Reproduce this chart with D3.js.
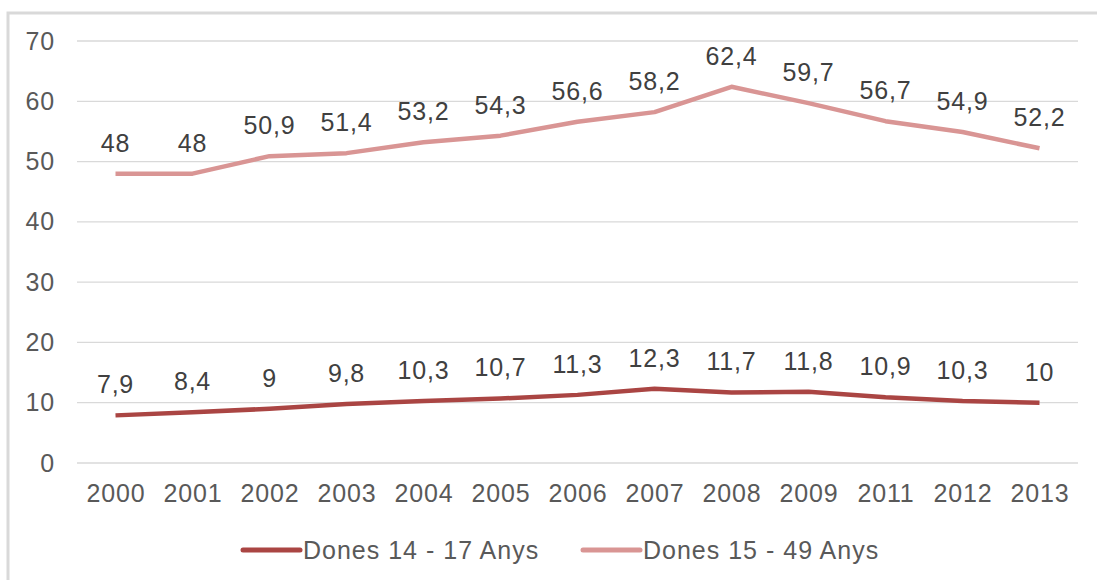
<!DOCTYPE html>
<html>
<head>
<meta charset="utf-8">
<script src="https://cdn.jsdelivr.net/npm/d3@7"></script>
<style>
  body { margin: 0; background: #fff; }
  svg { display: block; font-family: "Liberation Sans", Arial, sans-serif; }
</style>
</head>
<body>
<svg class="chart" width="1097" height="580"></svg>
<script>
var years = ["2000", "2001", "2002", "2003", "2004", "2005", "2006", "2007", "2008", "2009", "2011", "2012", "2013"];
var dones1417 = [7.9, 8.4, 9, 9.8, 10.3, 10.7, 11.3, 12.3, 11.7, 11.8, 10.9, 10.3, 10];
var dones1549 = [48, 48, 50.9, 51.4, 53.2, 54.3, 56.6, 58.2, 62.4, 59.7, 56.7, 54.9, 52.2];
var yTicks = [0, 10, 20, 30, 40, 50, 60, 70];

var series = [
  { name: "Dones 14 - 17 Anys", values: dones1417, color: "#aa4543" },
  { name: "Dones 15 - 49 Anys", values: dones1549, color: "#d99594" }
];

var svg = d3.select(".chart"),
    plotLeft = 77, plotRight = 1078, plotTop = 41, plotBottom = 463;

// frame
svg.append("path")
    .attr("d", "M8,580V13H1097")
    .attr("fill", "none")
    .attr("stroke", "#d9d9d9")
    .attr("stroke-width", 3);

var x = d3.scalePoint().domain(years).range([plotLeft, plotRight]).padding(0.5);
var y = d3.scaleLinear().domain([0, 70]).range([plotBottom, plotTop]);

// gridlines
svg.append("g")
  .selectAll("line")
  .data(yTicks)
  .join("line")
    .attr("x1", plotLeft).attr("x2", plotRight)
    .attr("y1", function(d) { return y(d); })
    .attr("y2", function(d) { return y(d); })
    .attr("stroke", "#d9d9d9")
    .attr("stroke-width", 1.3);

// y axis labels
var yAxis = svg.append("g")
    .attr("transform", "translate(" + plotLeft + ",0)")
    .call(d3.axisLeft(y).tickValues(yTicks).tickSize(0).tickPadding(22));
yAxis.select(".domain").remove();
yAxis.selectAll("text")
    .attr("fill", "#595959")
    .attr("font-size", 25)
    .attr("letter-spacing", 0.8)
    .attr("font-family", "Liberation Sans, Arial, sans-serif");

// x axis labels
var xAxis = svg.append("g")
    .attr("transform", "translate(0," + plotBottom + ")")
    .call(d3.axisBottom(x).tickSize(0).tickPadding(21));
xAxis.select(".domain").remove();
xAxis.selectAll("text")
    .attr("fill", "#595959")
    .attr("font-size", 25)
    .attr("letter-spacing", 0.8)
    .attr("font-family", "Liberation Sans, Arial, sans-serif");

var line = d3.line()
    .x(function(d, i) { return x(years[i]); })
    .y(function(d) { return y(d); });

series.forEach(function(s) {
  svg.append("path")
      .datum(s.values)
      .attr("d", line)
      .attr("fill", "none")
      .attr("stroke", s.color)
      .attr("stroke-width", 4.5)
      .attr("stroke-linejoin", "round");

  svg.append("g")
    .selectAll("text")
    .data(s.values)
    .join("text")
      .attr("x", function(d, i) { return x(years[i]); })
      .attr("y", function(d) { return y(d) - 22; })
      .attr("text-anchor", "middle")
      .attr("font-size", 25)
      .attr("letter-spacing", 0.8)
      .attr("fill", "#404040")
      .text(function(d) { return String(d).replace(".", ","); });
});

// legend
var legendX = [243, 583];
var legend = svg.append("g")
  .selectAll("g")
  .data(series)
  .join("g")
    .attr("transform", function(d, i) { return "translate(" + legendX[i] + ",550)"; });
legend.append("line")
    .attr("x1", 0).attr("x2", 57)
    .attr("stroke", function(d) { return d.color; })
    .attr("stroke-width", 5)
    .attr("stroke-linecap", "round");
legend.append("text")
    .attr("x", 60)
    .attr("y", 9)
    .attr("font-size", 25)
    .attr("letter-spacing", 1)
    .attr("fill", "#595959")
    .text(function(d) { return d.name; });
</script>
</body>
</html>
